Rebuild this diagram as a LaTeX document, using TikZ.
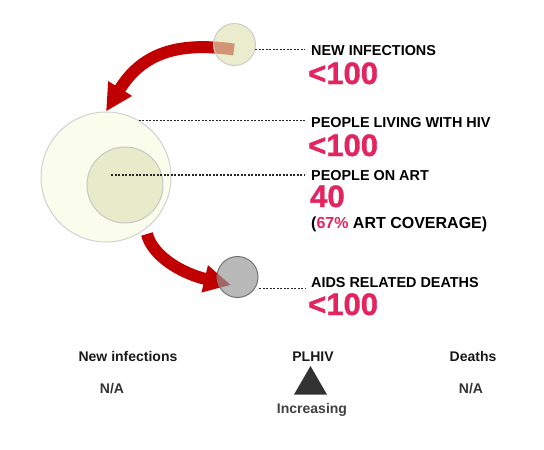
\documentclass[tikz,border=0pt]{standalone}
\usepackage{fontspec}
\setmainfont{Liberation Sans}
\newfontfamily\bignum[FakeBold=1.2]{Liberation Sans Bold}
\usetikzlibrary{arrows.meta}
\usetikzlibrary{shapes.geometric}

\definecolor{hivred}{HTML}{C00000}
\definecolor{hivpink}{HTML}{E3245E}
\definecolor{newfill}{HTML}{DEE3B3}
\definecolor{plfill}{HTML}{FBFDEC}
\definecolor{artfill}{HTML}{E8EBCA}
\definecolor{deathfill}{HTML}{969696}

\tikzset{
  flow/.style={hivred,line width=12pt,-{Triangle[length=27pt,width=26pt]}},
  leader/.style={draw=black!85,line width=1.2pt,dash pattern=on 2pt off 1.5pt},
  head/.style={anchor=base west,inner sep=0pt,font=\bfseries\fontsize{14.4}{16}\selectfont},
  big/.style={anchor=base west,inner sep=0pt,text=hivpink,font=\bignum\fontsize{31}{34}\selectfont},
  foot/.style={anchor=base,inner sep=0pt,font=\bfseries\fontsize{14}{16}\selectfont}
}

\begin{document}
\begin{tikzpicture}[x=1pt,y=-1pt]
  \path[use as bounding box] (0,0) rectangle (544,450);

  % circles
  \node[circle,draw=black!18,fill=plfill,line width=1pt,minimum size=130pt] (plhiv) at (106,177) {};
  \node[circle,draw=black!22,fill=artfill,line width=1pt,minimum size=76pt] (art) at (125,185) {};

  % flows
  \coordinate (t1) at (234,49.5);
  \coordinate (t2) at (147,234);
  \coordinate (h2) at (231,285);
  \draw[flow] (t1) .. controls +(-54,-7.5) and +(37,-60) .. (plhiv.north);
  \draw[flow] (t2) .. controls +(5,21) and +(-51,-12) .. (h2);

  \node[circle,draw=black!20,fill=newfill,fill opacity=0.66,line width=1pt,minimum size=42pt] (ni) at (234.5,44.5) {};
  \node[circle,draw=black!55,fill=deathfill,fill opacity=0.67,line width=1pt,minimum size=41pt] (dth) at (237.5,277) {};

  % labels
  \node[head] (niT) at (311,55) {NEW INFECTIONS};
  \node[big] (niN) at (308,84) {<100};
  \node[head] (plT) at (311,127) {PEOPLE LIVING WITH HIV};
  \node[big] (plN) at (308,156) {<100};
  \node[head] (artT) at (311,180) {PEOPLE ON ART};
  \node[big] (artN) at (310,207) {40};
  \node[head,font=\bfseries\fontsize{16}{18}\selectfont] (artC) at (311,228) {(\textcolor{hivpink}{67\%} ART COVERAGE)};
  \node[head] (dthT) at (311,287) {AIDS RELATED DEATHS};
  \node[big] (dthN) at (308,315) {<100};

  % leaders
  \coordinate (artdot) at (111,175);
  \draw[leader] (ni.-13) -- ([xshift=-6pt]niT.west |- ni.-13);
  \draw[leader] (plhiv.60) -- ([xshift=-6pt]plT.west |- plhiv.60);
  \draw[leader] (artdot) -- ([xshift=-6pt]artT.west |- artdot);
  \draw[leader,shorten <=4pt] (dth.-32) -- ([xshift=-6pt]dthT.west |- dth.-32);

  % trends
  \node[foot,text=black!90] (niH) at (128,361) {New infections};
  \node[foot,text=black!80] (niV) at (112,393) {N/A};
  \node[foot,text=black!90] (plH) at (313,361) {PLHIV};
  \node[regular polygon,regular polygon sides=3,fill=black!80,inner sep=0pt,minimum size=38pt] (plV) at (310.5,385) {};
  \node[foot,text=black!75] (plS) at (312,413) {Increasing};
  \node[foot,text=black!90] (dthH) at (473,361) {Deaths};
  \node[foot,text=black!80] (dthV) at (471,393) {N/A};
\end{tikzpicture}
\end{document}
